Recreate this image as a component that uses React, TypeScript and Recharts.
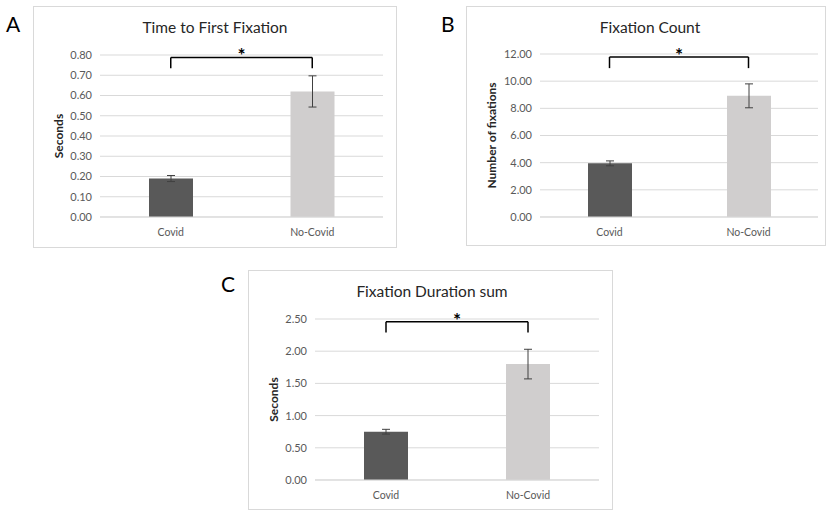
import { BarChart, Bar, XAxis, YAxis, CartesianGrid, Cell, ErrorBar, ReferenceLine, Label } from 'recharts'

const CATEGORIES = ['Covid', 'No-Covid']
const BAR_COLORS = ['#595959', '#D0CECE']

// A: time to first fixation (seconds)
const TTFF_MEAN = [0.19, 0.62]
const TTFF_ERR = [0.015, 0.077]
const TTFF_TICKS = [0, 0.1, 0.2, 0.3, 0.4, 0.5, 0.6, 0.7, 0.8]
const TTFF_BRACKET = [0.788, 0.734]

// B: fixation count
const COUNT_MEAN = [3.95, 8.92]
const COUNT_ERR = [0.18, 0.88]
const COUNT_TICKS = [0, 2, 4, 6, 8, 10, 12]
const COUNT_BRACKET = [11.78, 10.96]

// C: fixation duration sum (seconds)
const DUR_MEAN = [0.75, 1.8]
const DUR_ERR = [0.037, 0.23]
const DUR_TICKS = [0, 0.5, 1, 1.5, 2, 2.5]
const DUR_BRACKET = [2.458, 2.29]

const FONT = 'Lato, "Open Sans", sans-serif'
const GRID = '#D9D9D9'
const TEXT = '#595959'

type Box = { x: number; y: number; w: number; h: number }
type Plot = { left: number; top: number; right: number; bottom: number }

interface PanelProps {
  box: Box
  plot: Plot
  means: number[]
  errors: number[]
  ticks: number[]
  bracket: number[]
  yLabel: string
}

function Panel({ box, plot, means, errors, ticks, bracket, yLabel }: PanelProps) {
  const rows = CATEGORIES.map((cat, i) => ({ cat, mean: means[i], err: errors[i] }))
  const max = ticks[ticks.length - 1]
  const [top, foot] = bracket
  const tickStyle = { fontSize: 11, fill: TEXT, fontFamily: FONT }

  return (
    <>
      <div
        style={{
          position: 'absolute',
          left: box.x,
          top: box.y,
          width: box.w,
          height: box.h,
          boxSizing: 'border-box',
          border: `1px solid ${GRID}`,
        }}
      />
      <div style={{ position: 'absolute', left: box.x, top: box.y }}>
        <BarChart
          width={box.w}
          height={box.h}
          data={rows}
          margin={{ top: plot.top - box.y, right: box.x + box.w - plot.right, left: 0, bottom: 0 }}
        >
          <CartesianGrid vertical={false} stroke={GRID} />
          <XAxis
            dataKey="cat"
            height={box.y + box.h - plot.bottom}
            tickLine={false}
            tickMargin={6}
            axisLine={{ stroke: GRID }}
            tick={{ ...tickStyle, fontSize: 10.5 }}
          />
          <YAxis
            width={plot.left - box.x}
            domain={[0, max]}
            ticks={ticks}
            interval={0}
            axisLine={false}
            tickLine={false}
            tick={tickStyle}
            tickFormatter={(v: number) => v.toFixed(2)}
          >
            <Label
              value={yLabel}
              angle={-90}
              position="insideLeft"
              offset={26}
              style={{ textAnchor: 'middle', fontSize: 12, fontWeight: 700, fill: '#262626', fontFamily: FONT }}
            />
          </YAxis>
          <Bar dataKey="mean" barSize={44} isAnimationActive={false}>
            {rows.map((r, i) => (
              <Cell key={r.cat} fill={BAR_COLORS[i]} />
            ))}
            <ErrorBar dataKey="err" width={4} stroke="#404040" strokeWidth={1} />
          </Bar>
          <ReferenceLine
            segment={[{ x: CATEGORIES[0], y: top }, { x: CATEGORIES[1], y: top }]}
            stroke="#000"
            strokeWidth={1.5}
            label={{ value: '*', position: 'top', offset: -5, fontSize: 19, fontWeight: 700, fill: '#000', fontFamily: FONT }}
          />
          <ReferenceLine
            segment={[{ x: CATEGORIES[0], y: top }, { x: CATEGORIES[0], y: foot }]}
            stroke="#000"
            strokeWidth={1.5}
          />
          <ReferenceLine
            segment={[{ x: CATEGORIES[1], y: top }, { x: CATEGORIES[1], y: foot }]}
            stroke="#000"
            strokeWidth={1.5}
          />
        </BarChart>
      </div>
    </>
  )
}

export default function App() {
  return (
    <div style={{ position: 'absolute', left: 0, top: 0, width: 827, height: 512, background: '#fff', fontFamily: FONT }}>
      <Panel
        box={{ x: 33, y: 6, w: 364, h: 242 }}
        plot={{ left: 100, top: 55, right: 383, bottom: 217 }}
        means={TTFF_MEAN}
        errors={TTFF_ERR}
        ticks={TTFF_TICKS}
        bracket={TTFF_BRACKET}
        yLabel="Seconds"
      />
      <Panel
        box={{ x: 466, y: 6, w: 360, h: 240 }}
        plot={{ left: 540, top: 54, right: 818, bottom: 217 }}
        means={COUNT_MEAN}
        errors={COUNT_ERR}
        ticks={COUNT_TICKS}
        bracket={COUNT_BRACKET}
        yLabel="Number of fixations"
      />
      <Panel
        box={{ x: 248, y: 270, w: 365, h: 240 }}
        plot={{ left: 315, top: 319, right: 599, bottom: 480 }}
        means={DUR_MEAN}
        errors={DUR_ERR}
        ticks={DUR_TICKS}
        bracket={DUR_BRACKET}
        yLabel="Seconds"
      />
      <svg
        width={827}
        height={512}
        style={{ position: 'absolute', left: 0, top: 0, pointerEvents: 'none' }}
        fontFamily={FONT}
      >
        <text x={6} y={32} fontSize={21} fill="#000">A</text>
        <text x={441} y={32} fontSize={21} fill="#000">B</text>
        <text x={221} y={292} fontSize={21} fill="#000">C</text>
        <text x={215} y={33} fontSize={15.5} fill="#262626" textAnchor="middle">Time to First Fixation</text>
        <text x={650} y={33} fontSize={15.5} fill="#262626" textAnchor="middle">Fixation Count</text>
        <text x={432} y={297} fontSize={15.5} fill="#262626" textAnchor="middle">Fixation Duration sum</text>
      </svg>
    </div>
  )
}
